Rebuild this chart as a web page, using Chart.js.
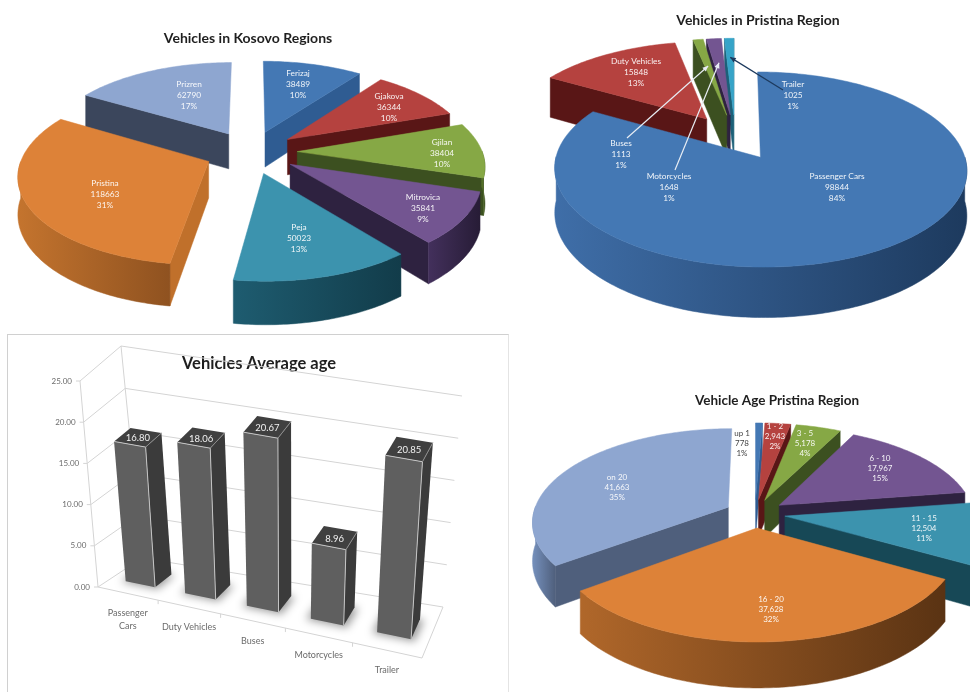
<!DOCTYPE html>
<html>
<head>
<meta charset="utf-8">
<title>Vehicles</title>
<script src="https://cdn.jsdelivr.net/npm/chart.js@4/dist/chart.umd.min.js"></script>
<style>
html, body { margin: 0; width: 970px; height: 692px; overflow: hidden; background: #fff; }
canvas { position: absolute; filter: blur(0.5px); }
#box { position: absolute; left: 7px; top: 334px; width: 500px; height: 400px; border: 1px solid #e4e4e4; border-top-color: #d0d0d0; border-left-color: #d0d0d0; }
</style>
</head>
<body>
<div id="box"></div>
<canvas id="kosovo" width="496" height="330" style="left:0;top:0"></canvas>
<canvas id="pristina" width="424" height="330" style="left:546px;top:0"></canvas>
<canvas id="avgAge" width="518" height="362" style="left:0;top:330px"></canvas>
<canvas id="ageRegion" width="504" height="362" style="left:525px;top:330px"></canvas>
<script>
// data
const kosovoRegions = ['Ferizaj', 'Gjakova', 'Gjilan', 'Mitrovica', 'Peja', 'Pristina', 'Prizren'];
const kosovoVehicles = [38489, 36344, 38404, 35841, 50023, 118663, 62790];
const kosovoPercent = ['10%', '10%', '10%', '9%', '13%', '31%', '17%'];

const pristinaTypes = ['Passenger Cars', 'Duty Vehicles', 'Buses', 'Motorcycles', 'Trailer'];
const pristinaVehicles = [98844, 15848, 1113, 1648, 1025];
const pristinaPercent = ['84%', '13%', '1%', '1%', '1%'];

const ageTypes = ['Passenger Cars', 'Duty Vehicles', 'Buses', 'Motorcycles', 'Trailer'];
const averageAge = [16.80, 18.06, 20.67, 8.96, 20.85];

const ageGroups = ['up 1', '1 - 2', '3 - 5', '6 - 10', '11 - 15', '16 - 20', 'on 20'];
const ageGroupVehicles = [778, 2943, 5178, 17967, 12504, 37628, 41663];
const ageGroupPercent = ['1%', '2%', '4%', '15%', '11%', '32%', '35%'];

// slice colours: top face, cut face, rim left, rim right
const officeColors = {
    blue: ['#4478b4', '#2f5c92', '#3f6ea8', '#1d3a5e'],
    red: ['#b5423f', '#591616', '#7a2220', '#4e1212'],
    green: ['#86a845', '#3c5020', '#5c7a2c', '#384c1c'],
    purple: ['#735591', '#2e2240', '#43305c', '#271c36'],
    teal: ['#3c93ae', '#174856', '#1e5c70', '#123c4a'],
    orange: ['#dd8238', '#c0702b', '#c4742e', '#8f5220'],
    slate: ['#8ea6d0', '#3b465c', '#7790bc', '#3b465c'],
    cyan: ['#36a4c8', '#1c6078', '#1c6078', '#1c6078']
};
const kosovoPalette = ['blue', 'red', 'green', 'purple', 'teal', 'orange', 'slate'].map(c => officeColors[c]);
const pristinaPalette = ['blue', 'red', 'green', 'purple', 'cyan'].map(c => officeColors[c]);
const agePalette = ['blue', 'red', 'green', 'purple', 'teal', 'orange', 'slate'].map(c => officeColors[c]);
agePalette[5] = ['#dd8238', '#7a4519', '#b0672a', '#5a3313'];
agePalette[6] = ['#8ea6d0', '#4f5f7c', '#7590bc', '#4f5f7c'];

// where the three line labels sit on the page
const kosovoLabelAt = [[298, 84], [389, 107], [442, 153], [423, 208], [299, 238], [105, 194], [189, 95]];
const pristinaLabelAt = [[837, 187], [636, 72], [621, 154], [669, 187], [793, 95]];
const ageLabelAt = [[742, 443], [775, 436], [805, 443], [880, 468], [924, 528], [771, 609], [617, 487]];

// tilted pie: the chart works out the slice angles, this projects them with some perspective
function tiltedPie(view) {
    return {
        id: 'tiltedPie',
        beforeDatasetsDraw(chart) {
            const ctx = chart.ctx;
            const project = (X, Y, down) => {
                const s = 1 / (1 - view.persp * Y);
                return [view.cx + view.rx * X * s, view.cy + view.ry * Y * s + (down ? view.depth * s : 0)];
            };
            const fillPath = (points, fill) => {
                ctx.beginPath();
                points.forEach((p, i) => i ? ctx.lineTo(p[0], p[1]) : ctx.moveTo(p[0], p[1]));
                ctx.closePath();
                ctx.fillStyle = fill;
                ctx.strokeStyle = fill;
                ctx.lineWidth = 0.5;
                ctx.fill();
                ctx.stroke();
            };
            const arcs = chart.getDatasetMeta(0).data;
            const slices = arcs.map((arc, i) => {
                const mid = (arc.startAngle + arc.endAngle) / 2;
                const e = arc.options.offset / 100;
                return { i, a0: arc.startAngle, a1: arc.endAngle, mid, ox: e * Math.cos(mid), oy: e * Math.sin(mid), color: arc.options.backgroundColor };
            });

            ctx.save();
            ctx.translate(-view.left, -view.top);
            // back slices first
            slices.slice().sort((p, q) => p.oy - q.oy).forEach(sl => {
                const steps = Math.max(2, Math.ceil((sl.a1 - sl.a0) * 180 / Math.PI));
                const rim = [];
                for (let k = 0; k <= steps; k++) {
                    const a = sl.a0 + (sl.a1 - sl.a0) * k / steps;
                    rim.push({ a, X: sl.ox + Math.cos(a), Y: sl.oy + Math.sin(a) });
                }
                const [, cutColor, rimLeft, rimRight] = view.palette[sl.i];
                const apex = [sl.ox, sl.oy];
                const wall = (edge) => [project(apex[0], apex[1]), project(edge.X, edge.Y), project(edge.X, edge.Y, true), project(apex[0], apex[1], true)];
                if (-Math.cos(sl.a0) > 0) fillPath(wall(rim[0]), cutColor);
                if (Math.cos(sl.a1) > 0) fillPath(wall(rim[steps]), cutColor);

                const front = rim.filter(p => Math.sin(p.a) >= -0.01);
                if (front.length > 1) {
                    const upper = front.map(p => project(p.X, p.Y));
                    const lower = front.map(p => project(p.X, p.Y, true)).reverse();
                    const xs = upper.map(p => p[0]);
                    const grad = ctx.createLinearGradient(Math.min(...xs), 0, Math.max(...xs), 0);
                    grad.addColorStop(0, rimLeft);
                    grad.addColorStop(1, rimRight);
                    fillPath(upper.concat(lower), grad);
                }
                fillPath([project(apex[0], apex[1])].concat(rim.map(p => project(p.X, p.Y))), sl.color);
            });

            // leader lines for the thin slices
            (view.leaders || []).forEach(l => {
                const sl = slices[l.slice];
                const to = project(sl.ox + l.reach * Math.cos(sl.mid), sl.oy + l.reach * Math.sin(sl.mid));
                const ang = Math.atan2(to[1] - l.from[1], to[0] - l.from[0]);
                ctx.strokeStyle = l.color;
                ctx.fillStyle = l.color;
                ctx.lineWidth = 1.2;
                ctx.beginPath();
                ctx.moveTo(l.from[0], l.from[1]);
                ctx.lineTo(to[0], to[1]);
                ctx.stroke();
                ctx.beginPath();
                ctx.moveTo(to[0], to[1]);
                ctx.lineTo(to[0] - 6 * Math.cos(ang - 0.45), to[1] - 6 * Math.sin(ang - 0.45));
                ctx.lineTo(to[0] - 6 * Math.cos(ang + 0.45), to[1] - 6 * Math.sin(ang + 0.45));
                ctx.closePath();
                ctx.fill();
            });

            // labels
            ctx.font = view.labelFont;
            ctx.textAlign = 'center';
            ctx.textBaseline = 'middle';
            slices.forEach(sl => {
                const at = view.labelAt[sl.i];
                const lines = [chart.data.labels[sl.i], view.valueText(chart.data.datasets[0].data[sl.i]), view.percent[sl.i]];
                ctx.fillStyle = (view.labelColors && view.labelColors[sl.i]) || 'rgba(255,255,255,0.92)';
                lines.forEach((t, n) => ctx.fillText(t, at[0], at[1] + (n - 1) * view.lineGap));
            });
            ctx.restore();
            return false;
        }
    };
}

function makePie(id, title, titleFont, titleTop, labels, values, offset, view) {
    return new Chart(document.getElementById(id), {
        type: 'pie',
        data: {
            labels: labels,
            datasets: [{
                data: values,
                backgroundColor: view.palette.map(c => c[0]),
                borderWidth: 0,
                offset: offset
            }]
        },
        options: {
            responsive: false,
            animation: false,
            plugins: {
                legend: { display: false },
                tooltip: { enabled: false },
                title: {
                    display: true,
                    text: title,
                    color: '#1f1f1f',
                    font: { family: 'Lato', size: titleFont, weight: 'bold' },
                    padding: { top: titleTop, bottom: 4 }
                }
            }
        },
        plugins: [tiltedPie(view)]
    });
}

makePie('kosovo', 'Vehicles in Kosovo Regions', 14, 30, kosovoRegions, kosovoVehicles, 25, {
    left: 0, top: 0, cx: 251, cy: 152, rx: 185, ry: 86, persp: 0.14, depth: 36,
    palette: kosovoPalette, labelAt: kosovoLabelAt, percent: kosovoPercent, lineGap: 11,
    labelFont: '8.3px Lato', valueText: v => String(v)
});

makePie('pristina', 'Vehicles in Pristina Region', 14, 12, pristinaTypes, pristinaVehicles, 25, {
    left: 546, top: 0, cx: 735, cy: 137, rx: 199, ry: 91, persp: 0.122, depth: 43,
    palette: pristinaPalette, labelAt: pristinaLabelAt, percent: pristinaPercent, lineGap: 11,
    labelFont: '8.3px Lato', valueText: v => String(v),
    leaders: [
        { slice: 2, reach: 0.625, from: [627, 138], color: '#e8edf4' },
        { slice: 3, reach: 0.66, from: [675, 170], color: '#e8edf4' },
        { slice: 4, reach: 0.73, from: [783, 90], color: '#1d3a5e' }
    ]
});

makePie('ageRegion', 'Vehicle Age Pristina Region', 13.5, 63, ageGroups, ageGroupVehicles, 15.5, {
    left: 525, top: 330, cx: 755, cy: 513.5, rx: 195, ry: 92, persp: 0.15, depth: 38,
    palette: agePalette, labelAt: ageLabelAt, percent: ageGroupPercent, lineGap: 10,
    labelFont: '8px Lato', valueText: v => v.toLocaleString('en-US'),
    labelColors: ['#444444']
});

// bar chart on a tilted floor. page positions of the box corners
const floorCorners = { fl: [98, 587], fr: [422, 658], bl: [142, 558], br: [443, 607] };
const riseAt = { fl: [-18, -206], fr: [14, -214], bl: [-21, -212], br: [19, -211] };

function boxPoint(u, v, h) {
    const w = u - 0.09 * u * (1 - u);
    const mix = (c, n) => (c.fl[n] * (1 - w) + c.fr[n] * w) * (1 - v) + (c.bl[n] * (1 - w) + c.br[n] * w) * v;
    return [mix(floorCorners, 0) + h * mix(riseAt, 0), mix(floorCorners, 1) + h * mix(riseAt, 1)];
}

const tiltedBars = {
    id: 'tiltedBars',
    beforeDatasetsDraw(chart) {
        const ctx = chart.ctx;
        const area = chart.chartArea;
        const yScale = chart.scales.y;
        const xScale = chart.scales.x;
        const toU = px => (px - area.left) / area.width;
        const toH = px => (area.bottom - px) / area.height;
        const line = (a, b, color) => {
            ctx.beginPath();
            ctx.moveTo(a[0], a[1]);
            ctx.lineTo(b[0], b[1]);
            ctx.strokeStyle = color;
            ctx.stroke();
        };
        const face = (pts, fill) => {
            ctx.beginPath();
            pts.forEach((p, i) => i ? ctx.lineTo(p[0], p[1]) : ctx.moveTo(p[0], p[1]));
            ctx.closePath();
            ctx.fillStyle = fill;
            ctx.fill();
        };
        const gridColor = '#d4d4d4';

        ctx.save();
        ctx.translate(0, -330);
        ctx.lineWidth = 1;

        // walls and floor
        yScale.ticks.forEach(t => {
            const h = toH(yScale.getPixelForValue(t.value));
            const front = boxPoint(0, 0, h);
            line(front, boxPoint(0, 1, h), gridColor);
            line(boxPoint(0, 1, h), boxPoint(1, 1, h), gridColor);
            line([front[0] - 4, front[1]], front, gridColor);
            ctx.fillStyle = '#6b6b6b';
            ctx.font = '8px Lato';
            ctx.textAlign = 'right';
            ctx.textBaseline = 'middle';
            ctx.fillText(t.value.toFixed(2), front[0] - 8, front[1]);
        });
        line(boxPoint(0, 0, 0), boxPoint(0, 0, 1), gridColor);
        line(boxPoint(0, 1, 0), boxPoint(0, 1, 1), gridColor);
        line(boxPoint(0, 0, 0), boxPoint(1, 0, 0), gridColor);
        line(boxPoint(1, 0, 0), boxPoint(1, 1, 0), gridColor);

        // category ticks and names
        xScale.ticks.forEach((t, i) => {
            const u = toU(xScale.getPixelForValue(i));
            const edge = boxPoint(u + 0.1, 0, 0);
            if (i < xScale.ticks.length - 1) line(edge, [edge[0], edge[1] + 4], gridColor);
            const at = boxPoint(u, 0, 0);
            ctx.fillStyle = '#6b6b6b';
            ctx.font = '9px Lato';
            ctx.textAlign = 'center';
            ctx.textBaseline = 'middle';
            const words = chart.data.labels[i] === 'Passenger Cars' ? ['Passenger', 'Cars'] : [chart.data.labels[i]];
            words.forEach((w, n) => ctx.fillText(w, at[0], at[1] + 20 + n * 13));
        });

        const bars = chart.getDatasetMeta(0).data;
        const near = 0.3, far = 0.7;
        bars.forEach((bar) => {
            const uL = toU(bar.x - bar.width / 2);
            const uR = toU(bar.x + bar.width / 2);
            ctx.save();
            ctx.filter = 'blur(4px)';
            face([boxPoint(uL - 0.012, near - 0.03, 0), boxPoint(uR + 0.012, near - 0.03, 0), boxPoint(uR + 0.012, far, 0), boxPoint(uL - 0.012, far, 0)], 'rgba(0,0,0,0.4)');
            ctx.restore();
        });
        bars.forEach((bar, i) => {
            const uL = toU(bar.x - bar.width / 2);
            const uR = toU(bar.x + bar.width / 2);
            const h = toH(bar.y);
            const p = (u, v, top) => boxPoint(u, v, top ? h : 0);
            face([p(uR, near), p(uR, far), p(uR, far, 1), p(uR, near, 1)], '#3b3b3b');
            face([p(uL, near, 1), p(uR, near, 1), p(uR, far, 1), p(uL, far, 1)], '#404040');
            face([p(uL, near), p(uR, near), p(uR, near, 1), p(uL, near, 1)], '#5f5f5f');
            line(p(uL, near, 1), p(uR, near, 1), '#c4c4c4');
            line(p(uR, near, 1), p(uR, near), '#c4c4c4');
            line(p(uR, near, 1), p(uR, far, 1), '#8c8c8c');
            const c = boxPoint((uL + uR) / 2, (near + far) / 2, h);
            ctx.fillStyle = '#f2f2f2';
            ctx.font = '9.5px Lato';
            ctx.textAlign = 'center';
            ctx.textBaseline = 'middle';
            ctx.fillText(chart.data.datasets[0].data[i].toFixed(2), c[0], c[1] + 1);
        });
        ctx.restore();
        return false;
    }
};

new Chart(document.getElementById('avgAge'), {
    type: 'bar',
    data: {
        labels: ageTypes,
        datasets: [{ data: averageAge, backgroundColor: '#5f5f5f', barPercentage: 0.5, categoryPercentage: 1 }]
    },
    options: {
        responsive: false,
        animation: false,
        scales: {
            x: { display: false },
            y: { display: false, min: 0, max: 25, ticks: { stepSize: 5 } }
        },
        plugins: {
            legend: { display: false },
            tooltip: { enabled: false },
            title: {
                display: true,
                text: 'Vehicles Average age',
                color: '#1f1f1f',
                font: { family: 'Lato', size: 16.5, weight: 'bold' },
                padding: { top: 24, bottom: 4 }
            }
        }
    },
    plugins: [tiltedBars]
});
</script>
</body>
</html>
